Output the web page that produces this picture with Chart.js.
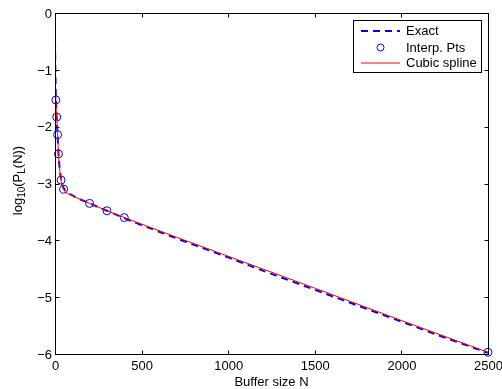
<!DOCTYPE html>
<html>
<head>
<meta charset="utf-8">
<script src="https://cdn.jsdelivr.net/npm/chart.js@4/dist/chart.umd.min.js"></script>
<style>
  body { margin: 0; background: #fff; }
  canvas { display: block; }
</style>
</head>
<body>
<canvas id="plChart" width="502" height="389"></canvas>
<script>
// exact curve
const exactN = [0, 2, 5, 10, 15, 20, 35, 50, 75, 100, 200, 300, 400, 500, 750, 1000, 1250, 1500, 1750, 2000, 2250, 2500];
const exactLogP = [-0.49, -1.0, -1.5, -1.85, -2.15, -2.47, -2.93, -3.08, -3.16, -3.21, -3.35, -3.48, -3.61, -3.73, -4.02, -4.30, -4.59, -4.87, -5.15, -5.43, -5.71, -5.98];

// interpolation points
const interpN = [5, 10, 15, 20, 35, 50, 200, 300, 400, 2500];
const interpLogP = [-1.53, -1.83, -2.14, -2.48, -2.94, -3.10, -3.35, -3.48, -3.60, -5.97];

// cubic spline
const splineN = [0, 5, 10, 15, 20, 35, 50, 100, 200, 300, 400, 1000, 1500, 2000, 2500];
const splineLogP = [-0.78, -1.53, -1.83, -2.14, -2.48, -2.94, -3.10, -3.21, -3.35, -3.48, -3.60, -4.28, -4.84, -5.41, -5.97];

const xTicks = [0, 500, 1000, 1500, 2000, 2500];
const yTicks = [0, -1, -2, -3, -4, -5, -6];

const FONT = '"Liberation Sans", Arial, Helvetica, sans-serif';

function pts(xs, ys) {
    return xs.map((x, i) => ({ x: x, y: ys[i] }));
}

function yLabel(v) {
    return v < 0 ? '\u2212' + Math.abs(v) : String(v);
}

const matlabFrame = {
    id: 'matlabFrame',
    afterDraw(chart) {
        const ctx = chart.ctx;
        const a = chart.chartArea;
        const xs = chart.scales.x, ys = chart.scales.y;
        const L = Math.round(a.left) + 0.5, R = Math.round(a.right) + 0.5;
        const T = Math.round(a.top) + 0.5, B = Math.round(a.bottom) + 0.5;
        ctx.save();
        ctx.strokeStyle = '#000';
        ctx.lineWidth = 1;
        ctx.setLineDash([]);
        ctx.strokeRect(L, T, R - L, B - T);
        // inward ticks
        ctx.beginPath();
        xTicks.forEach(v => {
            const p = Math.round(xs.getPixelForValue(v)) + 0.5;
            ctx.moveTo(p, B); ctx.lineTo(p, B - 4);
            ctx.moveTo(p, T); ctx.lineTo(p, T + 4);
        });
        yTicks.forEach(v => {
            const p = Math.round(ys.getPixelForValue(v)) + 0.5;
            ctx.moveTo(L, p); ctx.lineTo(L + 4, p);
            ctx.moveTo(R, p); ctx.lineTo(R - 4, p);
        });
        ctx.stroke();

        // tick labels
        ctx.fillStyle = '#000';
        ctx.font = '13px ' + FONT;
        ctx.textBaseline = 'alphabetic';
        ctx.textAlign = 'center';
        xTicks.forEach(v => {
            ctx.fillText(String(v), xs.getPixelForValue(v) + 0.5, a.bottom + 16);
        });
        ctx.textAlign = 'right';
        yTicks.forEach(v => {
            ctx.fillText(yLabel(v), a.left - 3, ys.getPixelForValue(v) + 4.8);
        });

        // x title
        ctx.textAlign = 'center';
        ctx.fillText('Buffer size N', (a.left + a.right) / 2, 386);

        // y title with subscripts
        const parts = [['log', 0], ['10', 1], ['(P', 0], ['L', 1], ['(N))', 0]];
        const w = parts.map(p => {
            ctx.font = (p[1] ? '10px ' : '13px ') + FONT;
            return ctx.measureText(p[0]).width;
        });
        const total = w.reduce((s, v) => s + v, 0);
        ctx.translate(21.5, (a.top + a.bottom) / 2 - 3);
        ctx.rotate(-Math.PI / 2);
        ctx.textAlign = 'left';
        let cx = -total / 2;
        parts.forEach((p, i) => {
            ctx.font = (p[1] ? '10px ' : '13px ') + FONT;
            ctx.fillText(p[0], cx, p[1] ? 3 : 0);
            cx += w[i];
        });
        ctx.restore();

        // legend box
        ctx.save();
        const bx = 353.5, by = 20.5, bw = 128, bh = 52;
        ctx.fillStyle = '#fff';
        ctx.fillRect(bx, by, bw, bh);
        ctx.strokeStyle = '#000';
        ctx.lineWidth = 1;
        ctx.strokeRect(bx, by, bw, bh);
        const rows = [31, 47.5, 63];
        const ds = chart.data.datasets;
        ctx.font = '13px ' + FONT;
        ctx.textBaseline = 'middle';
        ctx.textAlign = 'left';
        ds.forEach((d, i) => {
            const y = rows[i];
            ctx.strokeStyle = d.borderColor;
            ctx.lineWidth = d.borderWidth;
            if (d.showLine === false) {
                ctx.setLineDash([]);
                ctx.beginPath();
                ctx.arc(380.5, y, d.pointRadius - 0.5, 0, Math.PI * 2);
                ctx.stroke();
            } else {
                ctx.setLineDash(d.borderDash || []);
                ctx.beginPath();
                ctx.moveTo(361, Math.round(y));
                ctx.lineTo(400, Math.round(y));
                ctx.stroke();
            }
            ctx.fillStyle = '#000';
            ctx.fillText(d.label, 406, y + 0.5);
        });
        ctx.restore();
    }
};

new Chart(document.getElementById('plChart'), {
    type: 'line',
    data: {
        datasets: [
            {
                label: 'Exact',
                data: pts(exactN, exactLogP),
                borderColor: '#0000ff',
                borderWidth: 2,
                borderDash: [7, 5],
                pointRadius: 0,
                cubicInterpolationMode: 'monotone',
                fill: false,
                order: 3
            },
            {
                label: 'Interp. Pts',
                data: pts(interpN, interpLogP),
                showLine: false,
                borderColor: '#0000ff',
                backgroundColor: 'rgba(0,0,0,0)',
                borderWidth: 1,
                pointRadius: 4,
                pointStyle: 'circle',
                clip: false,
                order: 2
            },
            {
                label: 'Cubic spline',
                data: pts(splineN, splineLogP),
                borderColor: '#ff0000',
                borderWidth: 1,
                pointRadius: 0,
                cubicInterpolationMode: 'monotone',
                fill: false,
                order: 1
            }
        ]
    },
    options: {
        responsive: false,
        animation: false,
        devicePixelRatio: 1,
        layout: { padding: { top: 13, right: 14, left: 0, bottom: 0 } },
        plugins: {
            legend: { display: false },
            tooltip: { enabled: false }
        },
        scales: {
            x: {
                type: 'linear',
                min: 0,
                max: 2500,
                grid: { display: false, drawTicks: false },
                border: { display: false },
                ticks: { display: false },
                afterFit: s => { s.height = 35; }
            },
            y: {
                type: 'linear',
                min: -6,
                max: 0,
                grid: { display: false, drawTicks: false },
                border: { display: false },
                ticks: { display: false },
                afterFit: s => { s.width = 55; }
            }
        }
    },
    plugins: [matlabFrame]
});
</script>
</body>
</html>
